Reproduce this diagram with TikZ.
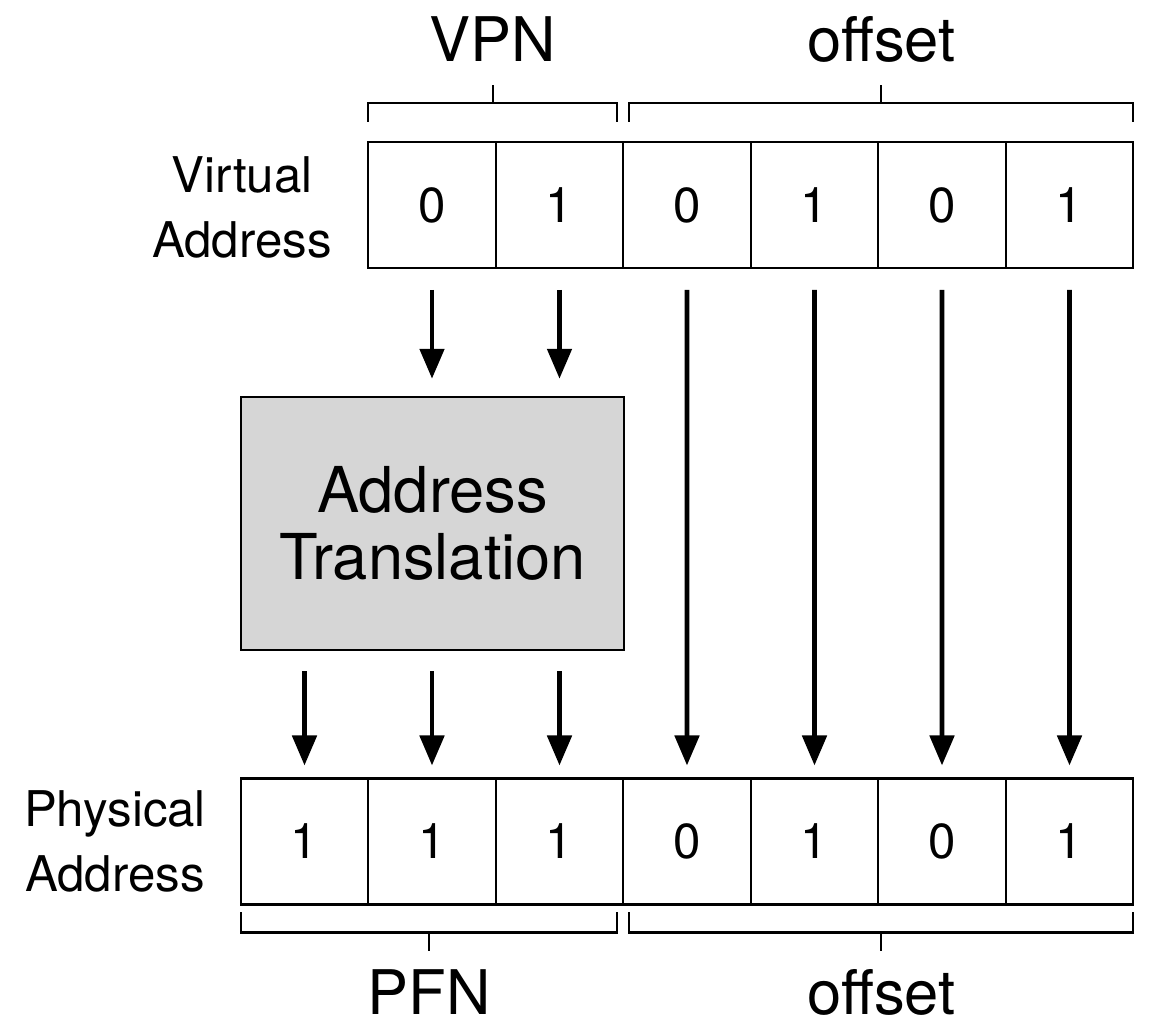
\documentclass[tikz,border=0pt]{standalone}
\usepackage{fontspec}
\setmainfont{TeX Gyre Heros}
\usepackage{tikz}
\usetikzlibrary{arrows.meta,positioning,calc}
\usepackage{xcolor}
\definecolor{xlategray}{RGB}{214,214,214}

\begin{document}
\begin{tikzpicture}[
    cell/.style={draw, line width=1.4pt, minimum width=2.55cm, minimum height=2.52cm, inner sep=0pt, outer sep=0pt, font=\fontsize{28}{34}\selectfont},
    rowlabel/.style={align=center, font=\fontsize{28}{37}\selectfont},
    fieldlabel/.style={anchor=base, font=\fontsize{35}{40}\selectfont},
    brace/.style={line width=1.3pt},
    arrow/.style={-{Triangle[length=0.6cm, width=0.48cm]}, line width=2.8pt}
]
\useasboundingbox (0,0) rectangle (23,20.52);

% Virtual address
\node[cell] (v0) at (8.64, 16.42) {0};
\node[cell, right=0pt of v0] (v1) {1};
\node[cell, right=0pt of v1] (v2) {0};
\node[cell, right=0pt of v2] (v3) {1};
\node[cell, right=0pt of v3] (v4) {0};
\node[cell, right=0pt of v4] (v5) {1};
\node[rowlabel] (vlabel) at (4.84, 16.37) {Virtual\\Address};

% Physical address
\node[cell] (p0) at (6.09, 3.69) {1};
\node[cell, right=0pt of p0] (p1) {1};
\node[cell, right=0pt of p1] (p2) {1};
\node[cell, right=0pt of p2] (p3) {0};
\node[cell, right=0pt of p3] (p4) {1};
\node[cell, right=0pt of p4] (p5) {0};
\node[cell, right=0pt of p5] (p6) {1};
\node[rowlabel] (plabel) at (2.30, 3.69) {Physical\\Address};

% Translation box
\node[draw, line width=1.4pt, fill=xlategray, minimum width=7.66cm, minimum height=5.06cm, align=center, font=\fontsize{36}{38}\selectfont] (xlate) at (8.65, 10.05) {Address\\Translation};

% VPN -> translation
\draw[arrow, shorten <=0.44cm, shorten >=0.34cm] (v0) -- (v0 |- xlate.north);
\draw[arrow, shorten <=0.44cm, shorten >=0.34cm] (v1) -- (v1 |- xlate.north);

% translation -> PFN
\draw[arrow, shorten <=0.4cm, shorten >=0.26cm] (p0 |- xlate.south) -- (p0);
\draw[arrow, shorten <=0.4cm, shorten >=0.26cm] (p1 |- xlate.south) -- (p1);
\draw[arrow, shorten <=0.4cm, shorten >=0.26cm] (p2 |- xlate.south) -- (p2);

% offset bits pass straight through
\draw[arrow, shorten <=0.44cm, shorten >=0.26cm] (v2) -- (p3);
\draw[arrow, shorten <=0.44cm, shorten >=0.26cm] (v3) -- (p4);
\draw[arrow, shorten <=0.44cm, shorten >=0.26cm] (v4) -- (p5);
\draw[arrow, shorten <=0.44cm, shorten >=0.26cm] (v5) -- (p6);

% Top brackets
\draw[brace] ([yshift=0.4cm]v0.north west) -- ([yshift=0.78cm]v0.north west)
    -- coordinate[pos=0.5] (vpnmid) ([xshift=-0.12cm, yshift=0.78cm]v1.north east)
    -- ([xshift=-0.12cm, yshift=0.4cm]v1.north east);
\draw[brace] (vpnmid) -- ++(0,0.36);
\node[fieldlabel] (vpn) at ([yshift=0.82cm]vpnmid) {VPN};

\draw[brace] ([xshift=0.12cm, yshift=0.4cm]v2.north west) -- ([xshift=0.12cm, yshift=0.78cm]v2.north west)
    -- coordinate[pos=0.5] (voffmid) ([yshift=0.78cm]v5.north east)
    -- ([yshift=0.4cm]v5.north east);
\draw[brace] (voffmid) -- ++(0,0.36);
\node[fieldlabel] (voff) at ([yshift=0.82cm]voffmid) {offset};

% Bottom brackets
\draw[brace] ([yshift=-0.16cm]p0.south west) -- ([yshift=-0.56cm]p0.south west)
    -- coordinate[pos=0.5] (pfnmid) ([xshift=-0.12cm, yshift=-0.56cm]p2.south east)
    -- ([xshift=-0.12cm, yshift=-0.16cm]p2.south east);
\draw[brace] (pfnmid) -- ++(0,-0.38);
\node[fieldlabel] (pfn) at ([yshift=-1.64cm]pfnmid) {PFN};

\draw[brace] ([xshift=0.12cm, yshift=-0.16cm]p3.south west) -- ([xshift=0.12cm, yshift=-0.56cm]p3.south west)
    -- coordinate[pos=0.5] (poffmid) ([yshift=-0.56cm]p6.south east)
    -- ([yshift=-0.16cm]p6.south east);
\draw[brace] (poffmid) -- ++(0,-0.38);
\node[fieldlabel] (poff) at ([yshift=-1.64cm]poffmid) {offset};

\end{tikzpicture}
\end{document}
